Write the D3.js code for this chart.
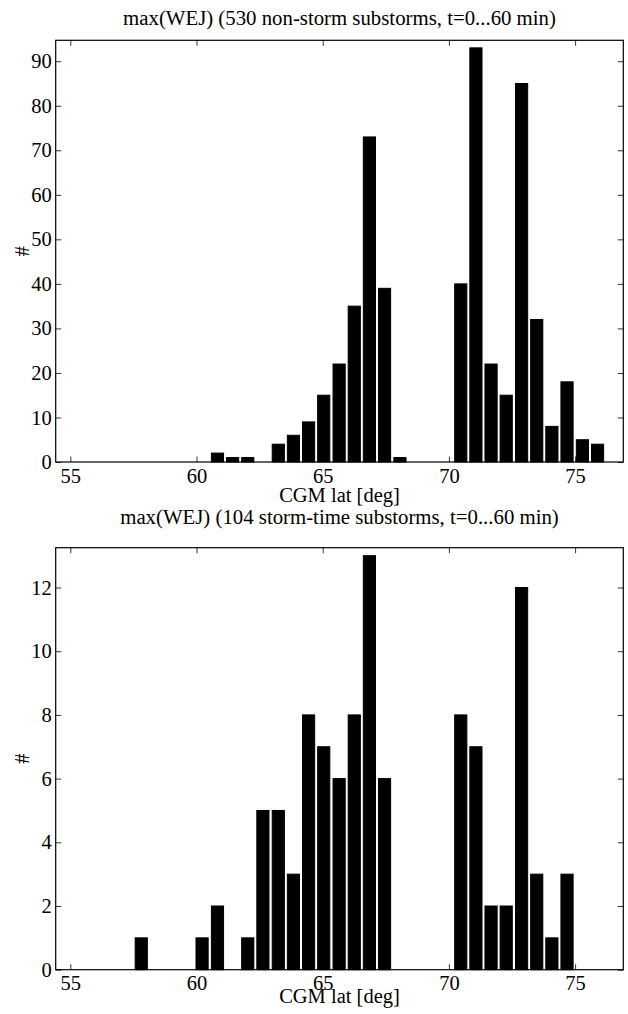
<!DOCTYPE html>
<html>
<head>
	<title>max(WEJ) histograms</title>
	<script src="https://cdn.jsdelivr.net/npm/d3@7/dist/d3.min.js"></script>
	<style>
		body { margin: 0; background: #fff; }
		svg text { font-family: "Liberation Serif", "DejaVu Serif", serif; fill: #000; }
	</style>
</head>
<body>
	<svg id="chart" width="628" height="1014"></svg>
</body>
<script type="text/javascript">
	// bin centres (CGM lat, deg)
	var binCenters = [54.80, 55.40, 56.01, 56.61, 57.21, 57.81, 58.42, 59.02, 59.62, 60.22,
	                  60.83, 61.43, 62.03, 62.63, 63.24, 63.84, 64.44, 65.04, 65.65, 66.25,
	                  66.85, 67.45, 68.06, 68.66, 69.26, 69.86, 70.47, 71.07, 71.67, 72.27,
	                  72.88, 73.48, 74.08, 74.68, 75.29, 75.89];
	var binWidth = 0.6025;

	var countsNonStorm = [0, 0, 0, 0, 0, 0, 0, 0, 0, 0,
	                      2, 1, 1, 0, 4, 6, 9, 15, 22, 35,
	                      73, 39, 1, 0, 0, 0, 40, 93, 22, 15,
	                      85, 32, 8, 18, 5, 4];
	var countsStorm = [0, 0, 0, 0, 0, 1, 0, 0, 0, 1,
	                   2, 0, 1, 5, 5, 3, 8, 7, 6, 8,
	                   13, 6, 0, 0, 0, 0, 8, 7, 2, 2,
	                   12, 3, 1, 3, 0, 0];

	var xTicks = [55, 60, 65, 70, 75];
	var yTicksNonStorm = [0, 10, 20, 30, 40, 50, 60, 70, 80, 90];
	var yTicksStorm = [0, 2, 4, 6, 8, 10, 12];

	var titles = ['max(WEJ) (530 non-storm substorms, t=0...60 min)',
	              'max(WEJ) (104 storm-time substorms, t=0...60 min)'];
	var xLabel = 'CGM lat [deg]';
	var yLabel = '#';

	const LEFT = 55.7, RIGHT = 623.3;
	const TICKLEN = 5.5;
	const FONT = '20.5px';

	var svg = d3.select('#chart');

	function drawPanel(opt) {
		var x = d3.scaleLinear().domain([54.42, 76.91]).range([LEFT, RIGHT]);
		var y = d3.scaleLinear().domain([0, opt.ymax]).range([opt.bottom, opt.top]);
		var g = svg.append('g');

		// bars (zero bins show up as a line on the baseline)
		g.selectAll('rect.bar')
			.data(binCenters)
			.enter()
			.append('rect')
				.attr('class', 'bar')
				.attr('x', function(d) { return x(d - 0.4 * binWidth); })
				.attr('width', function(d) { return x(d + 0.4 * binWidth) - x(d - 0.4 * binWidth); })
				.attr('y', function(d, i) { return y(opt.counts[i]); })
				.attr('height', function(d, i) { return y(0) - y(opt.counts[i]); })
				.attr('fill', '#000')
				.attr('stroke', '#000')
				.attr('stroke-width', 1);

		// inward ticks on all four sides
		var bottomAxis = d3.axisBottom(x).tickValues(xTicks).tickSize(-TICKLEN).tickPadding(6).tickFormat(d3.format('d'));
		var topAxis = d3.axisTop(x).tickValues(xTicks).tickSize(-TICKLEN).tickFormat('');
		var leftAxis = d3.axisLeft(y).tickValues(opt.yticks).tickSize(-TICKLEN).tickPadding(4).tickFormat(d3.format('d'));
		var rightAxis = d3.axisRight(y).tickValues(opt.yticks).tickSize(-TICKLEN).tickFormat('');

		var ax = [
			g.append('g').attr('transform', 'translate(0,' + opt.bottom + ')').call(bottomAxis),
			g.append('g').attr('transform', 'translate(0,' + opt.top + ')').call(topAxis),
			g.append('g').attr('transform', 'translate(' + LEFT + ',0)').call(leftAxis),
			g.append('g').attr('transform', 'translate(' + RIGHT + ',0)').call(rightAxis)
		];
		ax.forEach(function(a) {
			a.selectAll('.domain').remove();
			a.selectAll('line').attr('stroke', '#000').attr('stroke-width', 0.8);
			a.selectAll('text')
				.style('font-family', '"Liberation Serif", "DejaVu Serif", serif')
				.style('font-size', FONT)
				.attr('fill', '#000');
		});

		// box
		g.append('rect')
			.attr('x', LEFT)
			.attr('y', opt.top)
			.attr('width', RIGHT - LEFT)
			.attr('height', opt.bottom - opt.top)
			.attr('fill', 'none')
			.attr('stroke', '#000')
			.attr('stroke-width', 1.2);

		g.append('text')
			.attr('x', (LEFT + RIGHT) / 2)
			.attr('y', opt.titleY)
			.attr('text-anchor', 'middle')
			.style('font-size', '20.8px')
			.text(opt.title);

		g.append('text')
			.attr('x', (LEFT + RIGHT) / 2)
			.attr('y', opt.xlabelY)
			.attr('text-anchor', 'middle')
			.style('font-size', FONT)
			.text(xLabel);

		g.append('text')
			.attr('transform', 'translate(29,' + ((opt.top + opt.bottom) / 2) + ') rotate(-90)')
			.attr('text-anchor', 'middle')
			.style('font-size', FONT)
			.text(yLabel);
	}

	drawPanel({
		counts: countsNonStorm, ymax: 94.7, yticks: yTicksNonStorm,
		top: 40.3, bottom: 462, title: titles[0], titleY: 25, xlabelY: 501.5
	});
	drawPanel({
		counts: countsStorm, ymax: 13.25, yticks: yTicksStorm,
		top: 547.7, bottom: 969.7, title: titles[1], titleY: 524, xlabelY: 1003
	});
</script>
</html>
